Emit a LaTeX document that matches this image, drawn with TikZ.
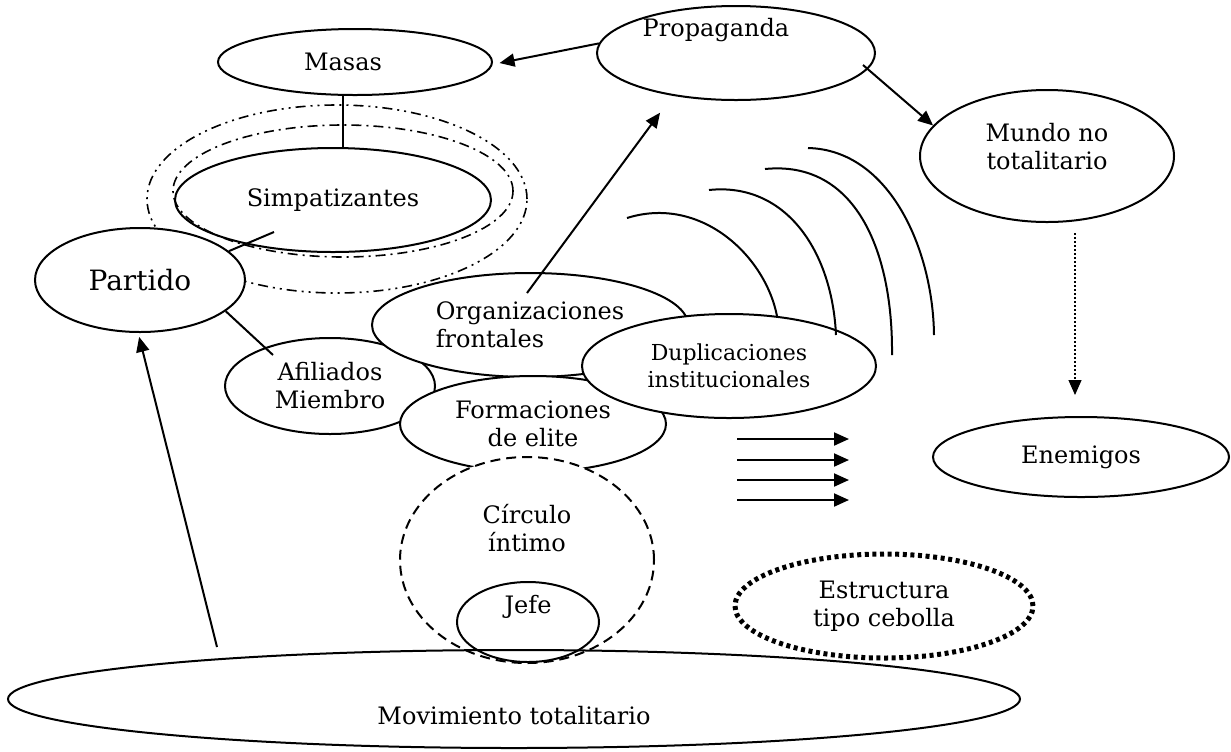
\documentclass[tikz,border=0pt]{standalone}
\usepackage{fontspec}
\setmainfont{DejaVu Serif}
\usetikzlibrary{shapes.geometric,arrows.meta}
\tikzset{
  elip/.style={draw, ellipse, line width=1pt, inner sep=0pt, align=center,
    font=\fontsize{12}{14}\selectfont},
  esize/.style 2 args={minimum width=#1pt, minimum height=#2pt},
  txt/.style={inner sep=0pt, align=center, font=\fontsize{12}{14}\selectfont},
  arr/.style={-{Triangle[length=7.5pt,width=6.5pt]}, line width=1pt},
  dotarr/.style={-{Triangle[length=7.5pt,width=6.5pt]}, line width=0.6pt,
    dash pattern=on 1pt off 1pt},
}
\begin{document}
\begin{tikzpicture}[x=0.5pt,y=-0.5pt]
                \useasboundingbox (0,0) rectangle (1231,751);
                % rings round the sympathisers
                \node[elip, esize={190}{94}, line width=0.8pt,
                    dash pattern=on 5pt off 2.5pt on 1pt off 2.5pt on 1pt off 2.5pt] (outer) at (337,199) {};
                \node[elip, esize={170}{66}, line width=0.8pt,
                    dash pattern=on 5pt off 2.5pt on 1pt off 2.5pt] (inner) at (343,191) {};
                \node[elip, esize={137}{33}] (masas) at (355,62) {};
                \node[txt] (masas-t) at (343,62) {Masas};
                \node[elip, esize={158}{52}] (simp) at (333,200) {Simpatizantes};
                \node[elip, esize={105}{52}, fill=white,
                    font=\fontsize{14}{16}\selectfont] (part) at (140,280) {Partido};
                \node[elip, esize={139}{47}] (prop) at (736,53) {};
                \node[txt] (prop-t) at (716,30) {Propaganda};
                \node[elip, esize={127}{66}] (mundo) at (1047,156) {};
                \node[txt] (mundo-t) at (1047,147) {Mundo no\\totalitario};
                \node[elip, esize={148}{40}] (enem) at (1081,457) {Enemigos};
                % onion layers
                \node[elip, esize={105}{48}] (afil) at (330,386) {Afiliados\\Miembro};
                \node[elip, esize={158}{52}, fill=white, align=left] (org) at (530,325) {Organizaciones\\frontales};
                \node[elip, esize={133}{48}, fill=white] (form) at (533,424) {Formaciones\\de elite};
                \node[elip, esize={147}{52}, fill=white,
                    font=\fontsize{11}{13.5}\selectfont] (dupl) at (729,366) {Duplicaciones\\institucionales};
                \node[elip, esize={127}{103}, fill=white, dash pattern=on 5pt off 3pt] (circ) at (527,560) {};
                \node[txt] (circ-t) at (527,528) {Círculo\\íntimo};
                \node[elip, esize={71}{40}, fill=white] (jefe) at (528,622) {};
                \node[txt] (jefe-t) at (528,607) {Jefe};
                \node[elip, esize={506}{49}] (mov) at (514,699) {};
                \node[txt] (mov-t) at (514,716) {Movimiento totalitario};
                \node[elip, esize={149}{52}, line width=2.5pt,
                    dash pattern=on 2pt off 1.8pt] (ceb) at (884,606) {Estructura\\tipo cebolla};
                % free ends
                \coordinate (simp-in) at (274,232);
                \coordinate (afil-in) at (273,355);
                \coordinate (org-in) at (527,293);
                \coordinate (prop-in) at (863,65);
                \coordinate (mov-up) at (217,647);
                % connectors
                \draw[line width=1pt] (masas.south -| masas-t) -- (masas-t |- simp.north);
                \draw[line width=1pt] (part.18) -- (simp-in);
                \draw[line width=1pt] (part.-20) -- (afil-in);
                \draw[arr, shorten >=3.5pt] (prop.176) -- (masas.-1);
                \draw[arr, shorten >=10.5pt] (org-in) -- (prop.214);
                \draw[arr] (prop-in) -- (mundo.165);
                \draw[dotarr, shorten <=5pt, shorten >=10.5pt]
                    ([xshift=14pt]mundo.south) -- ([xshift=14pt]mundo.south |- enem.north);
                \draw[arr, shorten >=2pt] (mov-up) -- (part.268);
                % waves
                \draw[line width=1pt] (627,218) .. controls (700,195) and (765,255) .. (777,316);
                \draw[line width=1pt] (709,190) .. controls (785,182) and (832,250) .. (836,335);
                \draw[line width=1pt] (765,169) .. controls (855,160) and (893,250) .. (892,355);
                \draw[line width=1pt] (808,148) .. controls (890,150) and (933,250) .. (934,335);
                % arrows to the right
                \foreach \i/\y in {1/439, 2/460, 3/480, 4/500} {
                    \coordinate (h\i a) at (737,\y);
                    \coordinate (h\i b) at (849,\y);
                    \draw[arr] (h\i a) -- (h\i b);
                }
            \end{tikzpicture}
\end{document}
